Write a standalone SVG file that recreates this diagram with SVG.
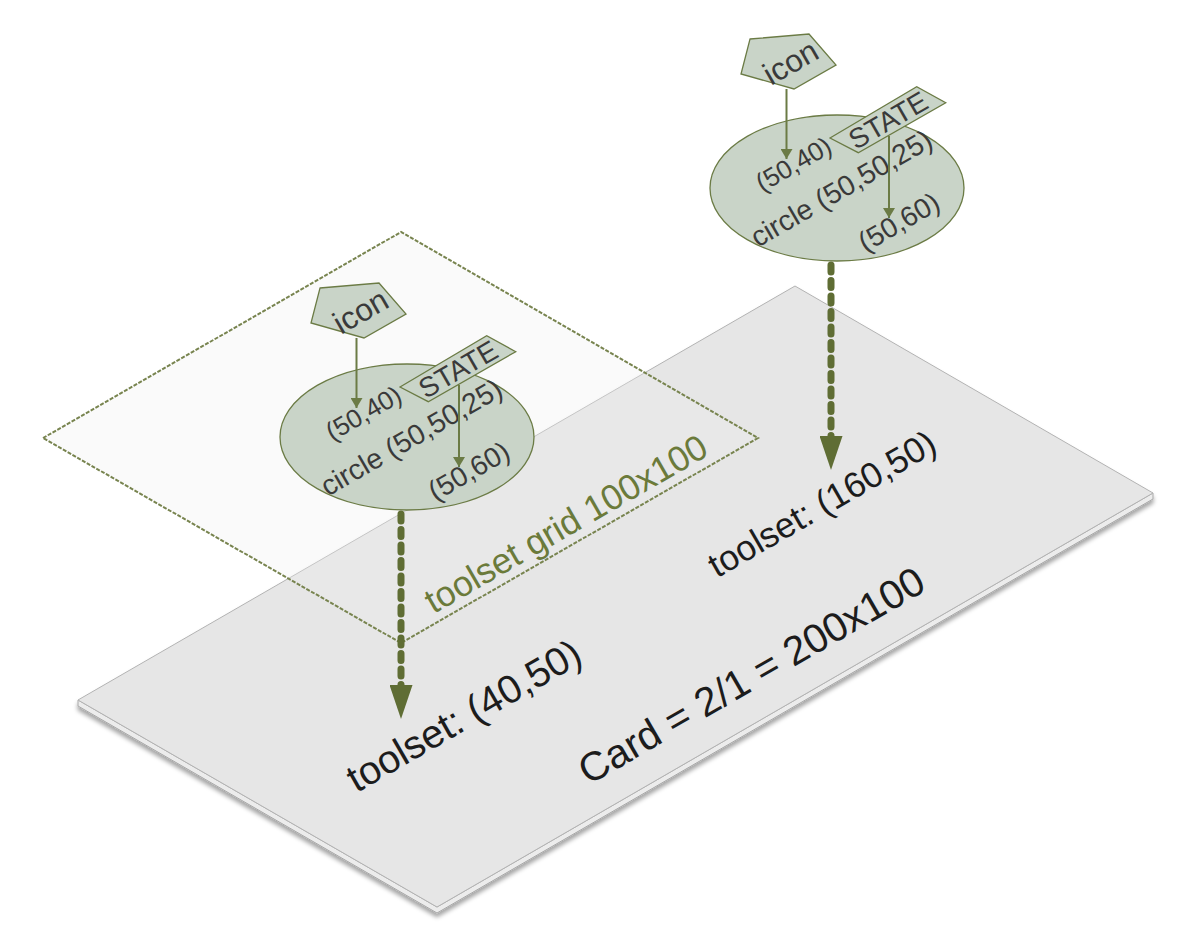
<svg xmlns="http://www.w3.org/2000/svg" width="1200" height="952" viewBox="0 0 1200 952">
<defs>
<style>
.nd{fill:#c9d4c8;stroke:#6b7b45;stroke-width:1.3}
.t{font-family:"Liberation Sans",Arial,sans-serif;text-anchor:middle}
.tn{fill:#3a3a3a}
.tc{fill:#1c1c1c}
.tg{fill:#6b7a3a}
.sa{stroke:#6b7b45;stroke-width:2;fill:none}
.ba{stroke:#5f6d34;stroke-width:7;fill:none;stroke-linecap:round;stroke-dasharray:7 8.5}
</style>
<filter id="shadow" x="-5%" y="-5%" width="110%" height="120%">
<feDropShadow dx="0" dy="4" stdDeviation="2" flood-color="#000" flood-opacity="0.35"/>
</filter>
<marker id="ah" viewBox="0 0 10 12" markerWidth="10" markerHeight="12" refX="10" refY="6" orient="auto" markerUnits="userSpaceOnUse">
<path d="M0,0 L10,6 L0,12 z" fill="#6b7b45"/>
</marker>
<marker id="bh" viewBox="0 0 34 23" markerWidth="34" markerHeight="23" refX="0" refY="11.5" orient="auto" markerUnits="userSpaceOnUse">
<path d="M0,0 L34,11.5 L0,23 z" fill="#5f6d34"/>
</marker>
</defs>
<rect width="1200" height="952" fill="#ffffff"/>
<g id="card">
<g filter="url(#shadow)">
<polygon points="78,700 437,907 1153,493 1153,499 437,913 78,706" fill="#ececec" stroke="#a8a8a8" stroke-width="1"/>
<polygon points="78,700 795,286 1153,493 437,907" fill="#e6e6e6" stroke="#b3b3b3" stroke-width="1"/>
</g>
<g transform="translate(751 675) rotate(-30)"><text class="t tc" x="0" y="14.5" font-size="40.5">Card = 2/1 = 200x100</text></g>
</g>
<g id="label-toolset-40-50" transform="translate(464 716) rotate(-30)"><text class="t tc" x="0" y="13" font-size="39.5">toolset: (40,50)</text></g>
<g id="label-toolset-160-50" transform="translate(822 504) rotate(-30)"><text class="t tc" x="0" y="12" font-size="35.5">toolset: (160,50)</text></g>
<g id="grid">
<polygon points="43,438 401,232 758,438 401,643" fill="#eeeeee" fill-opacity="0.3" stroke="#78844f" stroke-width="2" stroke-dasharray="4 1.5"/>
<g transform="translate(566 524) rotate(-30)"><text class="t tg" x="0" y="12" font-size="35.5">toolset grid 100x100</text></g>
</g>
<g id="left-icon">
<polygon class="nd" points="320,288 379,283 406,314 364,338 311,323"/>
<g transform="translate(361 312) rotate(-30)"><text class="t tn" x="0" y="10" font-size="31.5">icon</text></g>
</g>
<g id="left-circle">
<ellipse class="nd" cx="407" cy="437" rx="127" ry="73"/>
<g transform="translate(364 414) rotate(-30)"><text class="t tn" x="0" y="8" font-size="26">(50,40)</text></g>
<g transform="translate(411.5 437.5) rotate(-30)"><text class="t tn" x="0" y="9.5" font-size="28.5">circle (50,50,25)</text></g>
<g transform="translate(469.5 472) rotate(-30)"><text class="t tn" x="0" y="8.5" font-size="28">(50,60)</text></g>
</g>
<g id="left-state">
<polygon class="nd" points="400,387 486.7,335.7 515.7,351.7 428.3,401.7"/>
<g transform="translate(458 369) rotate(-30)"><text class="t tn" x="0" y="10" font-size="28">STATE</text></g>
</g>
<g id="right-icon" transform="translate(430,-249)">
<polygon class="nd" points="320,288 379,283 406,314 364,338 311,323"/>
<g transform="translate(361 312) rotate(-30)"><text class="t tn" x="0" y="10" font-size="31.5">icon</text></g>
</g>
<g id="right-circle" transform="translate(430,-249)">
<ellipse class="nd" cx="407" cy="437" rx="127" ry="73"/>
<g transform="translate(364 414) rotate(-30)"><text class="t tn" x="0" y="8" font-size="26">(50,40)</text></g>
<g transform="translate(411.5 437.5) rotate(-30)"><text class="t tn" x="0" y="9.5" font-size="28.5">circle (50,50,25)</text></g>
<g transform="translate(469.5 472) rotate(-30)"><text class="t tn" x="0" y="8.5" font-size="28">(50,60)</text></g>
</g>
<g id="right-state" transform="translate(430,-249)">
<polygon class="nd" points="400,387 486.7,335.7 515.7,351.7 428.3,401.7"/>
<g transform="translate(458 369) rotate(-30)"><text class="t tn" x="0" y="10" font-size="28">STATE</text></g>
</g>
<g id="connectors">
<line class="sa" x1="356.5" y1="338" x2="356.5" y2="408" marker-end="url(#ah)"/>
<line class="sa" x1="459" y1="385" x2="459" y2="467" marker-end="url(#ah)"/>
<line class="sa" x1="786.5" y1="89" x2="786.5" y2="159" marker-end="url(#ah)"/>
<line class="sa" x1="889" y1="136" x2="889" y2="218" marker-end="url(#ah)"/>
<line class="ba" x1="401" y1="514" x2="401" y2="685" marker-end="url(#bh)"/>
<line class="ba" x1="831" y1="265" x2="831" y2="436" marker-end="url(#bh)"/>
</g>
</svg>
